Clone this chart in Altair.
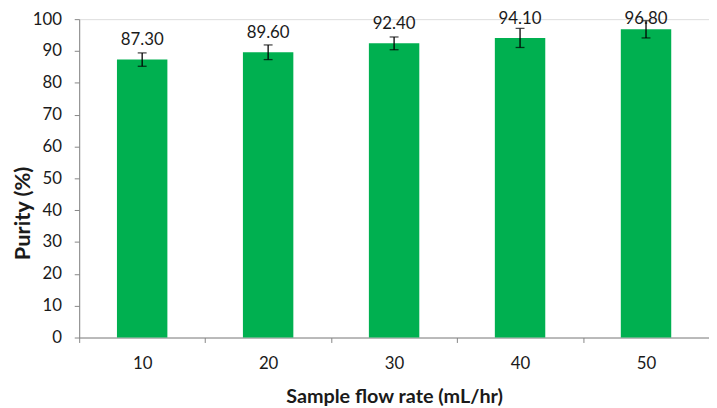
import altair as alt
import pandas as pd

flow_rates = ["10", "20", "30", "40", "50"]
purity = [87.3, 89.6, 92.4, 94.1, 96.8]
errors = [2.1, 2.3, 2.0, 3.0, 2.7]
labels = ["87.30", "89.60", "92.40", "94.10", "96.80"]

df = pd.DataFrame({
    "rate": flow_rates,
    "purity": purity,
    "err": errors,
    "label": labels,
})

FONT = "Lato"
GREEN = "#00B050"
AXIS_GREY = "#868686"
TEXT = "#1a1a1a"

y_scale = alt.Scale(domain=[0, 100], nice=False)
x_scale = alt.Scale(paddingInner=0, paddingOuter=0)

x_axis = alt.Axis(
    title="Sample flow rate (mL/hr)",
    labelAngle=0,
    labelFontSize=17,
    labelFont=FONT,
    labelColor=TEXT,
    labelPadding=13,
    tickBand="extent",
    tickSize=5,
    tickColor=AXIS_GREY,
    domainColor=AXIS_GREY,
    titleFont=FONT,
    titleFontSize=20,
    titleFontWeight="bold",
    titleColor=TEXT,
    titleBaseline="middle",
    titleY=60,
)

y_axis = alt.Axis(
    title="Purity (%)",
    values=[0, 10, 20, 30, 40, 50, 60, 70, 80, 90, 100],
    grid=False,
    labelFontSize=17,
    labelFont=FONT,
    labelColor=TEXT,
    labelPadding=13,
    tickSize=5,
    tickColor=AXIS_GREY,
    domainColor=AXIS_GREY,
    titleFont=FONT,
    titleFontSize=22,
    titleFontWeight="bold",
    titleColor=TEXT,
    titleBaseline="middle",
    titleAngle=270,
    titleX=-57,
    titleY=196,
)

X = alt.X("rate:N", sort=flow_rates, scale=x_scale, axis=x_axis)


def Y(field):
    return alt.Y(field, scale=y_scale, axis=y_axis)


bars = alt.Chart(df).mark_bar(color=GREEN, size=51).encode(
    x=X,
    y=Y("purity:Q"),
)

err_base = alt.Chart(df).transform_calculate(
    lo="datum.purity - datum.err", hi="datum.purity + datum.err"
)

rules = err_base.mark_rule(color="black", strokeWidth=1.3).encode(
    x=X,
    y=Y("lo:Q"),
    y2="hi:Q",
)
cap_lo = err_base.mark_tick(color="black", size=9, thickness=1.3).encode(
    x=X,
    y=Y("lo:Q"),
)
cap_hi = err_base.mark_tick(color="black", size=9, thickness=1.3).encode(
    x=X,
    y=Y("hi:Q"),
)

texts = alt.Chart(df).transform_calculate(
    ly="min(datum.purity + 4.6, 98.4)"
).mark_text(
    font=FONT, fontSize=17, color=TEXT, baseline="alphabetic"
).encode(
    x=X,
    y=Y("ly:Q"),
    text="label:N",
)

chart = alt.layer(bars, rules, cap_lo, cap_hi, texts).properties(
    width=637,
    height=322,
    autosize=alt.AutoSizeParams(type="none"),
    padding={"left": 72, "top": 9, "right": 0, "bottom": 69},
).configure_view(stroke=None).configure(background="white")

chart.save("out.html", embed_options={"renderer": "svg", "actions": False})
